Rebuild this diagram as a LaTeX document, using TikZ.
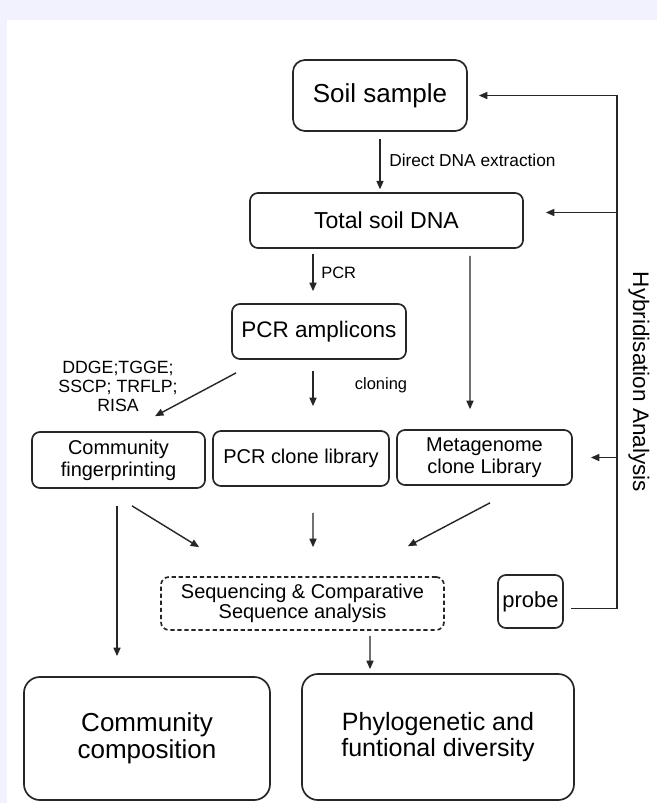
\documentclass[tikz,border=0pt]{standalone}
\usepackage{fontspec}
\setmainfont{Liberation Sans}
\usepackage{tikz}
\usetikzlibrary{arrows.meta, positioning, calc}

\tikzset{
  box/.style={draw=black!85, line width=1.2pt, rounded corners=0.2cm, align=center, inner sep=0pt},
  bigbox/.style={box, rounded corners=0.4cm},
  flow/.style={draw=black!85, line width=1pt, -{Triangle[length=6pt, width=5pt]}},
  lbl/.style={align=center, inner sep=0pt, font=\fontsize{11.7}{13.5}\selectfont},
}

\begin{document}
\begin{tikzpicture}[x=0.025cm, y=-0.025cm]
    \useasboundingbox (0,0) rectangle (657,803);
    \fill[white] (0,0) rectangle (657,803);
    \fill[blue!5] (0,0) rectangle (657,20);
    \fill[blue!5] (0,0) rectangle (7,803);

    \node[box, rounded corners=0.3cm, minimum width=4.35cm, minimum height=1.775cm,
          font=\fontsize{18.5}{20}\selectfont] (soil) at (380,95.5) {Soil sample};
    \node[box, minimum width=6.825cm, minimum height=1.375cm,
          font=\fontsize{16.4}{18}\selectfont] (dna) at (386.5,220.5) {Total soil DNA};
    \node[box, minimum width=4.35cm, minimum height=1.375cm,
          font=\fontsize{16}{18}\selectfont] (amp) at (319,331.5) {PCR amplicons};

    \node[box, minimum width=4.325cm, minimum height=1.4cm,
          font=\fontsize{14.2}{15.6}\selectfont] (finger) at (118.5,460) {Community\\fingerprinting};
    \node[box, minimum width=4.4cm, minimum height=1.375cm,
          font=\fontsize{14.2}{15.6}\selectfont] (clonelib) at (301,458.5) {PCR clone library};
    \node[box, minimum width=4.375cm, minimum height=1.375cm,
          font=\fontsize{14.2}{15.6}\selectfont] (meta) at (484.5,457.5) {Metagenome\\clone Library};

    \node[box, densely dashed, minimum width=7.075cm, minimum height=1.325cm,
          font=\fontsize{14.2}{14}\selectfont] (seq) at (302.5,603.5) {Sequencing \& Comparative\\Sequence analysis};
    \node[box, minimum width=1.625cm, minimum height=1.325cm,
          font=\fontsize{15.6}{17}\selectfont] (probe) at (530.5,601.5) {probe};

    \node[bigbox, minimum width=6.15cm, minimum height=3.075cm,
          font=\fontsize{18.5}{19}\selectfont] (comp) at (147,738.5) {Community\\composition};
    \node[bigbox, minimum width=6.8cm, minimum height=3.15cm,
          font=\fontsize{17.8}{19}\selectfont] (phylo) at (438,737) {Phylogenetic and\\funtional diversity};

    \draw[flow, shorten <=5pt, shorten >=2pt] (soil.south) -- (soil.south |- dna.north);
    \node[lbl, anchor=west, font=\fontsize{12.3}{13.5}\selectfont] (extract) at (389,160) {Direct DNA extraction};

    \draw[flow] ($(amp.north)+(-6,-49)$) -- ($(amp.north)+(-6,-12)$);
    \node[lbl, anchor=west] (pcr) at (321,273) {PCR};
    \draw[flow] ($(dna.south)+(83.5,7)$) -- ($(meta.north)+(-14.5,-20)$);

    \draw[flow] ($(amp.south west)+(5,13)$) -- ($(finger.north)+(36.5,-15)$);
    \node[lbl, font=\fontsize{12.6}{13.5}\selectfont] (methods) at (118,386) {DDGE;TGGE;\\SSCP; TRFLP;\\RISA};
    \draw[flow] ($(amp.south)+(-6,11)$) -- ($(clonelib.north)+(12,-24)$);
    \node[lbl] (cloning) at (381,385) {cloning};

    \draw[flow] ($(finger.south)+(13.5,17)$) -- ($(seq.north west)+(39,-29)$);
    \draw[flow] ($(finger.south)+(-1.5,17)$) -- ($(comp.north)+(-30,-20)$);
    \draw[flow] ($(clonelib.south)+(12,26)$) -- ($(seq.north)+(10.5,-29)$);
    \draw[flow] ($(meta.south)+(5.5,17)$) -- ($(seq.north east)+(-37,-30)$);
    \draw[flow] ($(seq.south)+(67.5,5)$) -- ($(phylo.north)+(-68,-4)$);

    \coordinate (hyb) at (617,0);
    \coordinate (dnain) at ($(dna.east)+(22,-8)$);
    \draw[flow] ($(probe.east)+(7,7)$) -| (hyb |- soil.east) -- ($(soil.east)+(11,0)$);
    \draw[flow] (hyb |- dnain) -- (dnain);
    \draw[flow] (hyb |- meta.east) -- ($(meta.east)+(18,0)$);
    \node[rotate=-90, inner sep=0pt, font=\fontsize{16}{18}\selectfont] (hybtext) at (639,382) {Hybridisation Analysis};
\end{tikzpicture}
\end{document}
